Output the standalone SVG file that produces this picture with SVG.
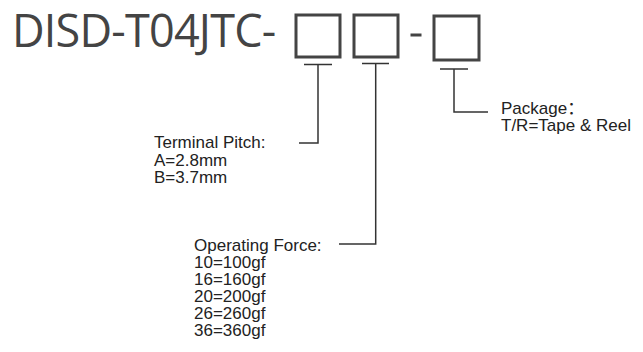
<svg xmlns="http://www.w3.org/2000/svg" width="643" height="352" viewBox="0 0 643 352">
<style>
.title{font-family:"Open Sans","DejaVu Sans",sans-serif;font-size:45px;fill:#444}
.box{fill:none;stroke:#444;stroke-width:3}
.lbl{font-family:"Liberation Sans",Arial,"Noto Sans CJK SC",sans-serif;font-size:17px;fill:#222}
.con{fill:none;stroke:#333;stroke-width:1.5}
</style>
<rect width="643" height="352" fill="#fff"/>
<g id="title">
<text class="title" x="12" y="47" letter-spacing="-0.8">DISD-T04JTC-</text>
</g>
<g id="box1"><rect class="box" x="296" y="15" width="44" height="42"/></g>
<g id="box2"><rect class="box" x="354" y="15" width="44" height="42"/></g>
<g id="dash"><rect x="410.5" y="33.5" width="11" height="3" fill="#444"/></g>
<g id="box3"><rect class="box" x="434" y="16" width="45" height="44"/></g>
<g id="connectors">
<path class="con" d="M304,64.5 H332 M318,64.5 V143 H299"/>
<path class="con" d="M362,63.5 H389 M375.7,63.5 V244 H339"/>
<path class="con" d="M440,69 H468 M454,69 V112 H488"/>
</g>
<g id="terminal-pitch">
<text class="lbl" x="154" y="148">Terminal Pitch:</text>
<text class="lbl" x="154" y="165.5">A=2.8mm</text>
<text class="lbl" x="154" y="183">B=3.7mm</text>
</g>
<g id="operating-force">
<text class="lbl" x="194" y="250.5">Operating Force:</text>
<text class="lbl" x="194" y="267.5">10=100gf</text>
<text class="lbl" x="194" y="284.5">16=160gf</text>
<text class="lbl" x="194" y="301.5">20=200gf</text>
<text class="lbl" x="194" y="318.5">26=260gf</text>
<text class="lbl" x="194" y="335.5">36=360gf</text>
</g>
<g id="package">
<text class="lbl" x="501" y="113.5">Package：</text>
<text class="lbl" x="501" y="131">T/R=Tape &amp; Reel</text>
</g>
</svg>
